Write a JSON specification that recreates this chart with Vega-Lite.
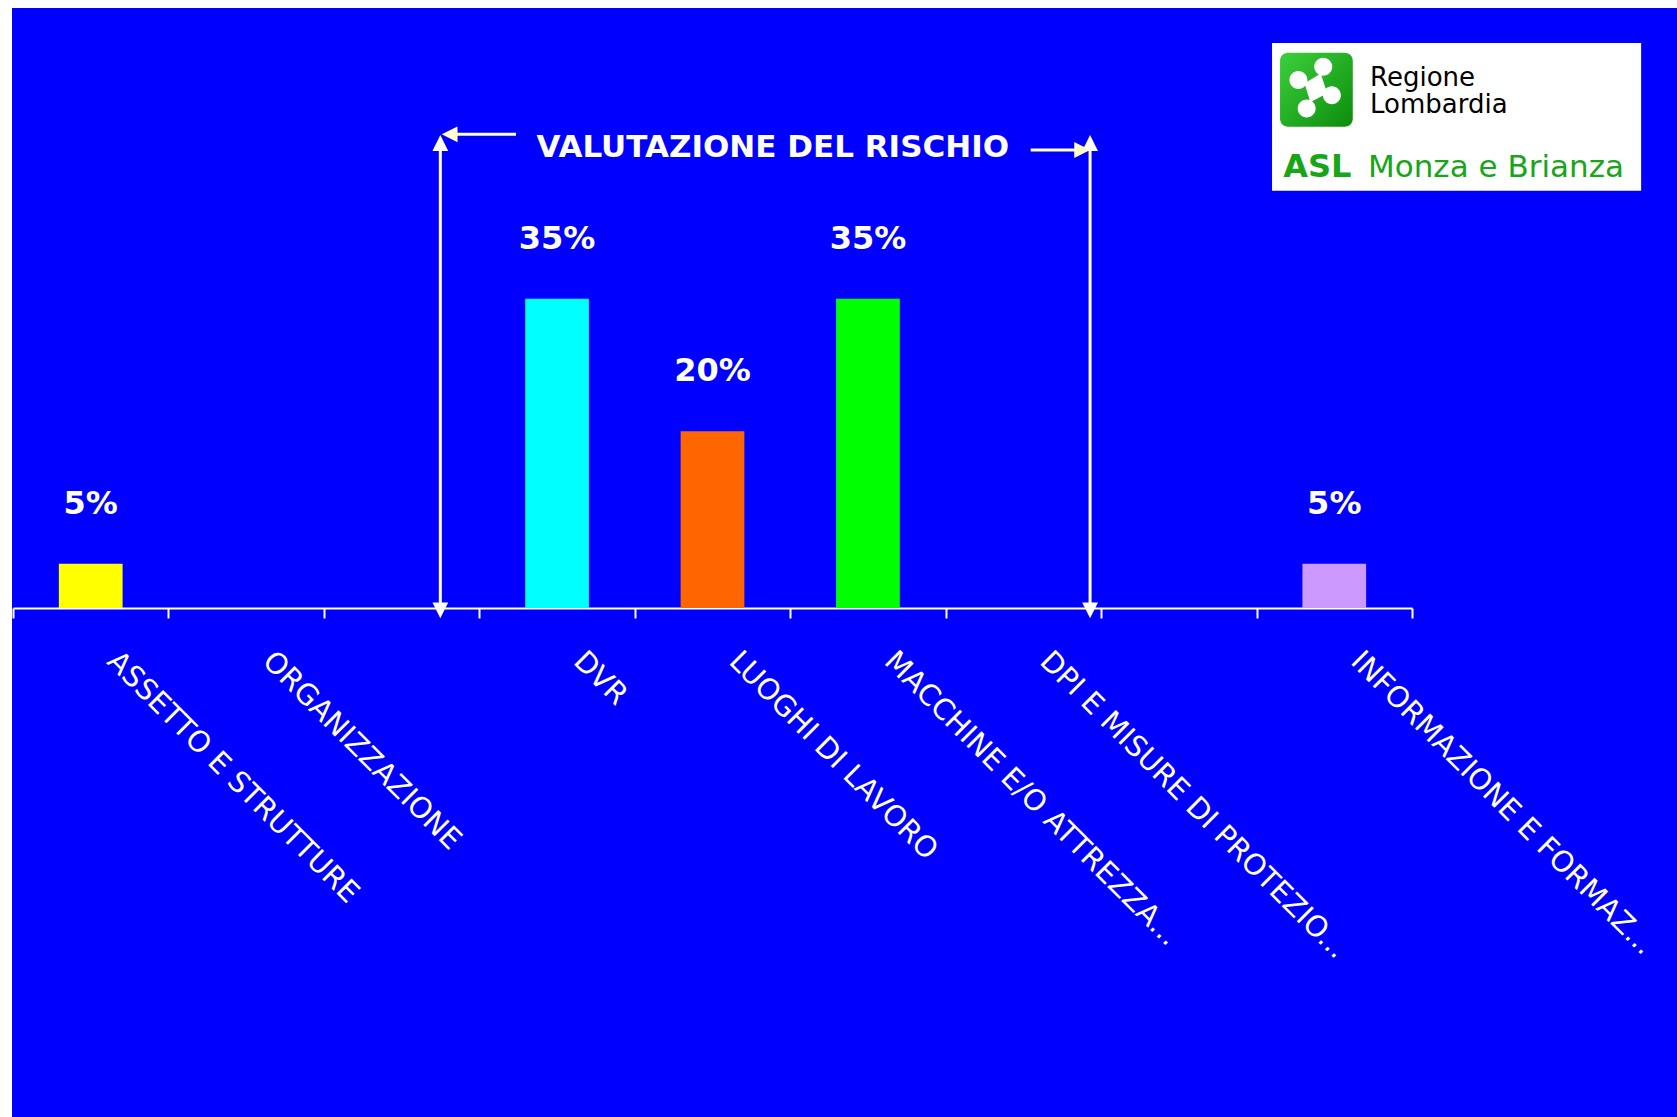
{
  "$schema": "https://vega.github.io/schema/vega-lite/v6.json",
  "width": 1665,
  "height": 1109,
  "autosize": {"type": "none"},
  "padding": {"left": 12, "top": 8, "right": 0, "bottom": 0},
  "background": "#FFFFFF",
  "config": {"view": {"fill": "#0000FF", "stroke": null}, "font": "DejaVu Sans"},
  "datasets": {
    "bars": [
      {"cat": "ASSETTO E STRUTTURE", "pct": 0.05},
      {"cat": "DVR", "pct": 0.35},
      {"cat": "LUOGHI DI LAVORO", "pct": 0.20},
      {"cat": "MACCHINE E/O ATTREZZA...", "pct": 0.35},
      {"cat": "INFORMAZIONE E FORMAZ...", "pct": 0.05}
    ],
    "vlines": [
      {"u": 2.749, "v": 0.5296, "v2": -0.0057},
      {"u": 6.929, "v": 0.5296, "v2": -0.0057}
    ],
    "hlines": [
      {"u": 2.805, "u2": 3.236, "v": 0.536},
      {"u": 6.547, "u2": 6.864, "v": 0.5183}
    ],
    "arrows": [
      {"u": 2.749, "v": 0.5352, "dir": "up"},
      {"u": 2.749, "v": -0.0117, "dir": "down"},
      {"u": 6.929, "v": 0.5352, "dir": "up"},
      {"u": 6.929, "v": -0.0117, "dir": "down"},
      {"u": 2.758, "v": 0.536, "dir": "left"},
      {"u": 6.929, "v": 0.5183, "dir": "right"}
    ],
    "heading": [{"u": 4.888, "v": 0.5211, "text": "VALUTAZIONE DEL RISCHIO"}],
    "logobox": [{"u": 8.0996, "u2": 10.474, "v": 0.6394, "v2": 0.4722}],
    "logoicon": [{"u": 8.151, "u2": 8.619, "v": 0.6284, "v2": 0.5446}],
    "logomark": [{"u": 8.385, "v": 0.5865}],
    "logoname": [
      {"u": 8.73, "v": 0.5907, "text": "Regione"},
      {"u": 8.73, "v": 0.5601, "text": "Lombardia"}
    ],
    "logoasl": [{"u": 8.171, "v": 0.4881, "text": "ASL"}],
    "logoarea": [{"u": 8.717, "v": 0.4881, "text": "Monza e Brianza"}]
  },
  "layer": [
    {
      "data": {"name": "bars"},
      "layer": [
        {
          "mark": {"type": "bar", "width": {"band": 0.41}},
          "encoding": {
            "x": {
              "field": "cat", "type": "nominal", "sort": null,
              "scale": {
                "domain": ["ASSETTO E STRUTTURE", "ORGANIZZAZIONE", " ", "DVR", "LUOGHI DI LAVORO", "MACCHINE E/O ATTREZZA...", "DPI E MISURE DI PROTEZIO...", "  ", "INFORMAZIONE E FORMAZ..."],
                "range": [1, 1400], "paddingInner": 0, "paddingOuter": 0
              },
              "axis": {
                "title": null, "orient": "bottom", "offset": -509,
                "domainColor": "#FFFFFF", "domainWidth": 2,
                "tickColor": "#FFFFFF", "tickWidth": 2, "tickSize": 10, "tickBand": "extent",
                "labelAngle": 45, "labelAlign": "left", "labelBaseline": "middle",
                "labelColor": "#FFFFFF", "labelFont": "DejaVu Sans", "labelFontSize": 29,
                "labelPadding": 38, "labelLimit": 1000, "labelOffset": 21,
                "labelOverlap": false, "grid": false
              }
            },
            "y": {
              "field": "pct", "type": "quantitative",
              "scale": {"domain": [0, 0.679], "range": [600, 0], "nice": false},
              "axis": null
            },
            "color": {
              "field": "cat", "type": "nominal",
              "scale": {
                "domain": ["ASSETTO E STRUTTURE", "DVR", "LUOGHI DI LAVORO", "MACCHINE E/O ATTREZZA...", "INFORMAZIONE E FORMAZ..."],
                "range": ["#FFFF00", "#00FFFF", "#FF6600", "#00FF00", "#CC99FF"]
              },
              "legend": null
            }
          }
        },
        {
          "mark": {"type": "text", "dy": -60, "baseline": "middle", "align": "center", "font": "DejaVu Sans", "fontWeight": "bold", "fontSize": 32, "color": "#FFFFFF"},
          "encoding": {
            "x": {
              "field": "cat", "type": "nominal", "sort": null,
              "scale": {
                "domain": ["ASSETTO E STRUTTURE", "ORGANIZZAZIONE", " ", "DVR", "LUOGHI DI LAVORO", "MACCHINE E/O ATTREZZA...", "DPI E MISURE DI PROTEZIO...", "  ", "INFORMAZIONE E FORMAZ..."],
                "range": [1, 1400], "paddingInner": 0, "paddingOuter": 0
              }
            },
            "y": {
              "field": "pct", "type": "quantitative",
              "scale": {"domain": [0, 0.679], "range": [600, 0], "nice": false},
              "axis": null
            },
            "text": {"field": "pct", "type": "quantitative", "format": ".0%"}
          }
        }
      ]
    },
    {
      "layer": [
        {
          "data": {"name": "vlines"},
          "mark": {"type": "rule", "color": "#FFFFFF", "strokeWidth": 3},
          "encoding": {
            "x": {"field": "u", "type": "quantitative", "scale": {"domain": [0, 9], "range": [1, 1400], "nice": false, "zero": false}, "axis": null},
            "y": {"field": "v", "type": "quantitative", "scale": {"domain": [0, 0.679], "range": [600, 0], "nice": false}, "axis": null},
            "y2": {"field": "v2"}
          }
        },
        {
          "data": {"name": "hlines"},
          "mark": {"type": "rule", "color": "#FFFFCC", "strokeWidth": 3},
          "encoding": {
            "x": {"field": "u", "type": "quantitative", "scale": {"domain": [0, 9], "range": [1, 1400], "nice": false, "zero": false}, "axis": null},
            "x2": {"field": "u2"},
            "y": {"field": "v", "type": "quantitative", "scale": {"domain": [0, 0.679], "range": [600, 0], "nice": false}, "axis": null}
          }
        },
        {
          "data": {"name": "arrows"},
          "mark": {"type": "point", "filled": true, "opacity": 1, "size": 1000, "strokeWidth": 0},
          "encoding": {
            "x": {"field": "u", "type": "quantitative", "scale": {"domain": [0, 9], "range": [1, 1400], "nice": false, "zero": false}, "axis": null},
            "y": {"field": "v", "type": "quantitative", "scale": {"domain": [0, 0.679], "range": [600, 0], "nice": false}, "axis": null},
            "shape": {
              "field": "dir", "type": "nominal",
              "scale": {"domain": ["up", "down", "left", "right"], "range": ["M0,0L0.5,1L-0.5,1Z", "M0,0L-0.5,-1L0.5,-1Z", "M0,0L1,-0.5L1,0.5Z", "M0,0L-1,0.5L-1,-0.5Z"]},
              "legend": null
            },
            "color": {
              "field": "dir", "type": "nominal",
              "scale": {"domain": ["up", "down", "left", "right"], "range": ["#FFFFFF", "#FFFFFF", "#FFFFCC", "#FFFFCC"]},
              "legend": null
            }
          }
        },
        {
          "data": {"name": "heading"},
          "mark": {"type": "text", "align": "center", "baseline": "middle", "font": "DejaVu Sans", "fontWeight": "bold", "fontSize": 31, "color": "#FFFFFF"},
          "encoding": {
            "x": {"field": "u", "type": "quantitative", "scale": {"domain": [0, 9], "range": [1, 1400], "nice": false, "zero": false}, "axis": null},
            "y": {"field": "v", "type": "quantitative", "scale": {"domain": [0, 0.679], "range": [600, 0], "nice": false}, "axis": null},
            "text": {"field": "text"}
          }
        },
        {
          "data": {"name": "logobox"},
          "mark": {"type": "rect", "color": "#FFFFFF"},
          "encoding": {
            "x": {"field": "u", "type": "quantitative", "scale": {"domain": [0, 9], "range": [1, 1400], "nice": false, "zero": false}, "axis": null},
            "x2": {"field": "u2"},
            "y": {"field": "v", "type": "quantitative", "scale": {"domain": [0, 0.679], "range": [600, 0], "nice": false}, "axis": null},
            "y2": {"field": "v2"}
          }
        },
        {
          "data": {"name": "logoicon"},
          "mark": {
            "type": "rect", "cornerRadius": 8,
            "color": {"gradient": "linear", "x1": 0, "y1": 0, "x2": 1, "y2": 1, "stops": [{"offset": 0, "color": "#3CD03C"}, {"offset": 1, "color": "#0C8C0C"}]}
          },
          "encoding": {
            "x": {"field": "u", "type": "quantitative", "scale": {"domain": [0, 9], "range": [1, 1400], "nice": false, "zero": false}, "axis": null},
            "x2": {"field": "u2"},
            "y": {"field": "v", "type": "quantitative", "scale": {"domain": [0, 0.679], "range": [600, 0], "nice": false}, "axis": null},
            "y2": {"field": "v2"}
          }
        },
        {
          "data": {"name": "logomark"},
          "mark": {
            "type": "point", "filled": true, "opacity": 1, "color": "#FFFFFF", "size": 5184, "strokeWidth": 0,
            "shape": "M-0.06,-0.64a0.25,0.25 0 1,0 0.5,0a0.25,0.25 0 1,0 -0.5,0ZM-0.75,-0.27a0.25,0.25 0 1,0 0.5,0a0.25,0.25 0 1,0 -0.5,0ZM0.18,0.15a0.25,0.25 0 1,0 0.5,0a0.25,0.25 0 1,0 -0.5,0ZM-0.52,0.52a0.25,0.25 0 1,0 0.5,0a0.25,0.25 0 1,0 -0.5,0ZM0.12,-0.45L-0.33,-0.18L-0.17,0.35L0.3,0.1Z"
          },
          "encoding": {
            "x": {"field": "u", "type": "quantitative", "scale": {"domain": [0, 9], "range": [1, 1400], "nice": false, "zero": false}, "axis": null},
            "y": {"field": "v", "type": "quantitative", "scale": {"domain": [0, 0.679], "range": [600, 0], "nice": false}, "axis": null}
          }
        },
        {
          "data": {"name": "logoname"},
          "mark": {"type": "text", "align": "left", "baseline": "alphabetic", "font": "DejaVu Sans", "fontSize": 26, "color": "#000000"},
          "encoding": {
            "x": {"field": "u", "type": "quantitative", "scale": {"domain": [0, 9], "range": [1, 1400], "nice": false, "zero": false}, "axis": null},
            "y": {"field": "v", "type": "quantitative", "scale": {"domain": [0, 0.679], "range": [600, 0], "nice": false}, "axis": null},
            "text": {"field": "text"}
          }
        },
        {
          "data": {"name": "logoasl"},
          "mark": {"type": "text", "align": "left", "baseline": "alphabetic", "font": "DejaVu Sans", "fontWeight": "bold", "fontSize": 32, "color": "#18A518"},
          "encoding": {
            "x": {"field": "u", "type": "quantitative", "scale": {"domain": [0, 9], "range": [1, 1400], "nice": false, "zero": false}, "axis": null},
            "y": {"field": "v", "type": "quantitative", "scale": {"domain": [0, 0.679], "range": [600, 0], "nice": false}, "axis": null},
            "text": {"field": "text"}
          }
        },
        {
          "data": {"name": "logoarea"},
          "mark": {"type": "text", "align": "left", "baseline": "alphabetic", "font": "DejaVu Sans", "fontSize": 31, "color": "#18A518"},
          "encoding": {
            "x": {"field": "u", "type": "quantitative", "scale": {"domain": [0, 9], "range": [1, 1400], "nice": false, "zero": false}, "axis": null},
            "y": {"field": "v", "type": "quantitative", "scale": {"domain": [0, 0.679], "range": [600, 0], "nice": false}, "axis": null},
            "text": {"field": "text"}
          }
        }
      ]
    }
  ],
  "resolve": {"scale": {"x": "independent", "y": "independent", "color": "independent", "shape": "independent"}, "axis": {"x": "independent", "y": "independent"}}
}
